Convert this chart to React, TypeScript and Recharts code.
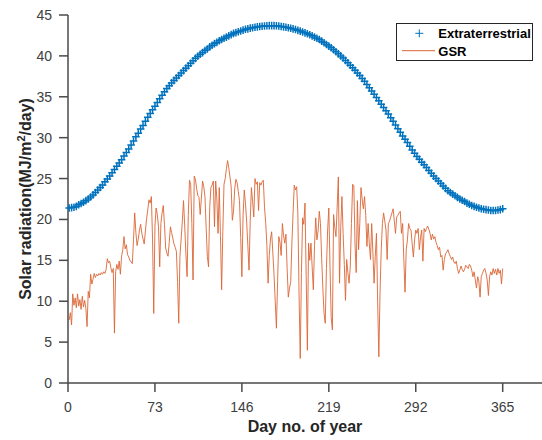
import React from 'react';
import { LineChart, Line, XAxis, YAxis, Legend } from 'recharts';

// Extraterrestrial radiation, read every 2 days (days 1, 3, 5, ..., 365)
const ET_VALUES = [
  21.4, 21.45, 21.5, 21.6, 21.8,
  21.95, 22.1, 22.3, 22.5, 22.75,
  23.0, 23.3, 23.6, 23.9, 24.2,
  24.6, 24.95, 25.3, 25.7, 26.1,
  26.5, 26.9, 27.3, 27.75, 28.2,
  28.6, 29.1, 29.6, 30.1, 30.55,
  31.05, 31.5, 32.0, 32.5, 32.95,
  33.4, 33.85, 34.3, 34.75, 35.2,
  35.6, 36.0, 36.35, 36.7, 37.0,
  37.3, 37.6, 37.9, 38.2, 38.5,
  38.8, 39.1, 39.4, 39.7, 39.95,
  40.2, 40.4, 40.65, 40.85, 41.1,
  41.3, 41.5, 41.65, 41.85, 42.0,
  42.15, 42.3, 42.45, 42.6, 42.75,
  42.85, 42.95, 43.05, 43.15, 43.25,
  43.3, 43.4, 43.45, 43.5, 43.55,
  43.6, 43.62, 43.65, 43.68, 43.7,
  43.7, 43.7, 43.68, 43.65, 43.6,
  43.55, 43.5, 43.45, 43.38, 43.3,
  43.22, 43.12, 43.03, 42.93, 42.82,
  42.7, 42.58, 42.45, 42.3, 42.15,
  42.0, 41.8, 41.6, 41.4, 41.2,
  41.0, 40.75, 40.5, 40.25, 40.0,
  39.75, 39.45, 39.15, 38.85, 38.55,
  38.25, 37.9, 37.6, 37.25, 36.9,
  36.5, 36.1, 35.7, 35.3, 34.9,
  34.5, 34.1, 33.7, 33.3, 32.9,
  32.45, 32.0, 31.55, 31.1, 30.65,
  30.2, 29.8, 29.4, 28.95, 28.5,
  28.1, 27.7, 27.35, 27.0, 26.7,
  26.35, 26.0, 25.65, 25.3, 25.0,
  24.7, 24.4, 24.1, 23.8, 23.5,
  23.3, 23.1, 22.9, 22.7, 22.5,
  22.35, 22.2, 22.0, 21.85, 21.7,
  21.6, 21.5, 21.4, 21.3, 21.25,
  21.2, 21.15, 21.1, 21.1, 21.1,
  21.15, 21.2, 21.3,
];

// Global solar radiation, days 1..365
const GSR_VALUES = [
  7.7, 8.6, 7.1, 10.9, 9.5, 10.4, 9.2, 10.9, 9.4, 10.2,
  9.0, 10.6, 9.3, 10.1, 9.1, 6.9, 11.2, 10.4, 13.3, 12.1,
  12.7, 13.4, 12.9, 13.3, 13.1, 13.4, 13.2, 13.5, 13.3, 13.6,
  13.4, 13.9, 15.2, 14.7, 14.9, 14.1, 13.5, 14.0, 6.1, 13.6,
  14.5, 13.9, 14.9, 13.3, 15.5, 16.3, 17.9, 16.4, 16.9, 15.7,
  15.4, 15.0, 14.8, 14.6, 17.5, 20.8, 18.4, 16.8, 17.6, 18.7,
  19.4, 18.3, 17.6, 17.0, 18.6, 20.1, 21.2, 22.4, 22.0, 22.8,
  17.5, 8.5, 19.2, 21.4, 20.6, 19.1, 14.2, 19.5, 20.8, 21.7,
  19.4, 16.5, 15.9, 15.5, 17.2, 19.1, 18.4, 17.7, 17.0, 16.6,
  16.1, 12.3, 7.3, 15.5, 17.6, 19.8, 22.3, 19.2, 15.8, 13.0,
  20.5, 24.8, 24.3, 19.5, 12.6, 25.3, 24.9, 23.8, 22.9, 22.7,
  20.6, 22.6, 24.7, 24.0, 22.8, 19.0, 15.5, 14.2, 21.5, 23.9,
  24.2, 24.7, 19.1, 24.7, 22.5, 18.3, 23.9, 18.0, 11.4, 18.5,
  24.3, 25.0, 26.2, 27.2, 26.3, 25.2, 24.0, 19.9, 21.0, 23.8,
  24.9, 24.5, 23.4, 22.3, 17.8, 13.0, 20.5, 23.6, 22.0, 19.8,
  16.8, 13.8, 19.8, 23.9, 22.2, 20.3, 25.0, 24.3, 24.6, 21.1,
  24.5, 24.2, 24.6, 24.8, 21.5, 19.6, 16.8, 12.2, 15.6, 17.6,
  18.5, 15.9, 13.2, 10.0, 6.7, 12.4, 17.9, 17.2, 15.6, 19.5,
  18.0, 17.1, 18.2, 14.0, 10.5, 11.6, 12.4, 17.1, 20.8, 24.2,
  23.6, 24.0, 20.8, 11.0, 3.0, 13.5, 20.2, 19.4, 22.0, 13.0,
  4.0, 17.1, 15.0, 17.1, 14.2, 11.4, 16.8, 20.2, 17.5, 18.6,
  21.0, 19.5, 15.2, 11.5, 8.5, 7.3, 14.0, 18.7, 21.4, 14.2,
  8.0, 6.5, 20.6, 19.0, 17.9, 21.5, 25.2, 12.2, 19.0, 22.8,
  18.3, 14.5, 10.1, 15.1, 13.5, 12.2, 14.2, 19.5, 24.3, 24.1,
  17.0, 13.5, 22.3, 16.3, 19.5, 23.9, 22.5, 21.3, 22.8, 20.5,
  16.7, 19.5, 17.0, 15.1, 19.5, 16.0, 12.2, 15.5, 18.3, 10.0,
  3.2, 11.0, 16.3, 19.5, 20.8, 19.8, 18.7, 15.1, 19.5, 19.8,
  20.3, 20.8, 21.3, 19.8, 18.3, 20.3, 20.5, 20.8, 21.0, 18.3,
  19.5, 15.0, 11.1, 16.3, 17.5, 19.5, 18.9, 18.7, 17.0, 15.4,
  17.5, 18.7, 18.3, 18.9, 16.3, 17.8, 18.7, 14.9, 18.9, 18.5,
  18.9, 19.2, 18.8, 18.3, 17.5, 18.2, 17.6, 17.9, 17.2, 16.8,
  16.3, 16.6, 15.4, 15.6, 13.8, 15.1, 15.8, 16.0, 16.3, 15.8,
  15.5, 15.1, 15.4, 14.8, 14.6, 14.9, 14.0, 13.4, 13.8, 14.3,
  13.9, 13.6, 13.9, 14.4, 14.2, 14.0, 14.5, 14.3, 13.8, 13.0,
  13.6, 12.6, 11.6, 13.0, 12.4, 10.5, 13.0, 13.4, 13.8, 14.0,
  13.4, 12.6, 10.7, 13.0, 13.6, 13.2, 14.0, 13.4, 13.9, 13.2,
  14.0, 13.4, 13.8, 12.1, 14.0,
];

const X_TICKS = [0, 73, 146, 219, 292, 365];
const Y_TICKS = [0, 5, 10, 15, 20, 25, 30, 35, 40, 45];
const SERIES_NAMES = ['Extraterrestrial', 'GSR'];

const etRows = ET_VALUES.map((v, i) => ({ day: 2 * i + 1, et: v }));
const gsrRows = GSR_VALUES.map((v, i) => ({ day: i + 1, gsr: v }));

const FONT = '"Liberation Sans", Arial, Helvetica, sans-serif';
const BLUE = '#0072BD';
const ORANGE = '#D95319';
const GSR_LINE = '#DB6535';
const AXIS = '#4a4a4a';
const TICK_TEXT = '#404040';

const PlusDot = (props: any) => {
  const { cx, cy, index } = props;
  if (cx == null || cy == null) return <g key={`e${index}`} />;
  const s = 3.8;
  return (
    <path
      key={`e${index}`}
      d={`M${cx - s},${cy}H${cx + s}M${cx},${cy - s}V${cy + s}`}
      stroke={BLUE}
      strokeWidth={1.5}
      fill="none"
    />
  );
};

const YTitle = (props: any) => {
  const vb = props && props.viewBox && props.viewBox.height ? props.viewBox : { x: 0, y: 15, width: 68, height: 368 };
  const x = vb.x + 31;
  const y = vb.y + vb.height / 2;
  return (
    <text
      x={x}
      y={y}
      transform={`rotate(-90 ${x} ${y})`}
      textAnchor="middle"
      fontFamily={FONT}
      fontSize={16}
      fontWeight="bold"
      fill="#262626"
    >
      Solar radiation(MJ/m<tspan dy={-6} fontSize={11}>2</tspan>
      <tspan dy={6}>/day)</tspan>
    </text>
  );
};

const XTitle = (props: any) => {
  const vb = props && props.viewBox && props.viewBox.width ? props.viewBox : { x: 68, y: 383, width: 474, height: 57 };
  const x = vb.x + vb.width / 2;
  const y = vb.y + 48.5;
  return (
    <text x={x} y={y} textAnchor="middle" fontFamily={FONT} fontSize={16} fontWeight="bold" fill="#262626">
      Day no. of year
    </text>
  );
};

const LegendBox = () => (
  <div
    style={{
      width: 137,
      height: 38,
      boxSizing: 'border-box',
      border: '1px solid #262626',
      background: '#fff',
      position: 'relative',
    }}
  >
    <svg width={135} height={36} style={{ position: 'absolute', left: 0, top: 0 }}>
      <path d="M18.3,9.3H26.3M22.3,5.3V13.3" stroke={BLUE} strokeWidth={1} fill="none" />
      <text x={41.3} y={14} fontFamily={FONT} fontSize={13} fontWeight="bold" fill="#000">
        {SERIES_NAMES[0]}
      </text>
      <line x1={5} y1={26.7} x2={38} y2={26.7} stroke={GSR_LINE} strokeWidth={1} />
      <text x={41.3} y={32} fontFamily={FONT} fontSize={13} fontWeight="bold" fill="#000">
        {SERIES_NAMES[1]}
      </text>
    </svg>
  </div>
);

export default function App() {
  return (
    <div style={{ position: 'absolute', left: 0, top: 0, width: 542, height: 440, background: '#fff' }}>
      <LineChart width={542} height={440} margin={{ top: 15, right: 0, bottom: 0, left: 0 }}>
        <XAxis
          dataKey="day"
          type="number"
          domain={[0, 398]}
          ticks={X_TICKS}
          interval={0}
          height={57}
          tickSize={9}
          tickMargin={10}
          axisLine={{ stroke: AXIS, strokeWidth: 1.5 }}
          tickLine={{ stroke: AXIS, strokeWidth: 1.5 }}
          tick={{ fill: TICK_TEXT, fontSize: 14, fontFamily: FONT }}
          label={{ content: XTitle }}
        />
        <YAxis
          type="number"
          domain={[0, 45]}
          ticks={Y_TICKS}
          interval={0}
          width={68}
          tickSize={9}
          tickMargin={7}
          axisLine={{ stroke: AXIS, strokeWidth: 1.5 }}
          tickLine={{ stroke: AXIS, strokeWidth: 1.5 }}
          tick={{ fill: TICK_TEXT, fontSize: 14, fontFamily: FONT }}
          label={{ content: YTitle }}
        />
        <Legend
          layout="vertical"
          align="center"
          verticalAlign="middle"
          content={LegendBox}
          wrapperStyle={{ left: 396, top: 23, width: 137, height: 38 }}
        />
        <Line
          data={etRows}
          dataKey="et"
          name={SERIES_NAMES[0]}
          stroke="none"
          dot={PlusDot}
          activeDot={false}
          isAnimationActive={false}
        />
        <Line
          data={gsrRows}
          dataKey="gsr"
          name={SERIES_NAMES[1]}
          stroke={GSR_LINE}
          strokeWidth={0.9}
          dot={false}
          activeDot={false}
          isAnimationActive={false}
        />
      </LineChart>
    </div>
  );
}
